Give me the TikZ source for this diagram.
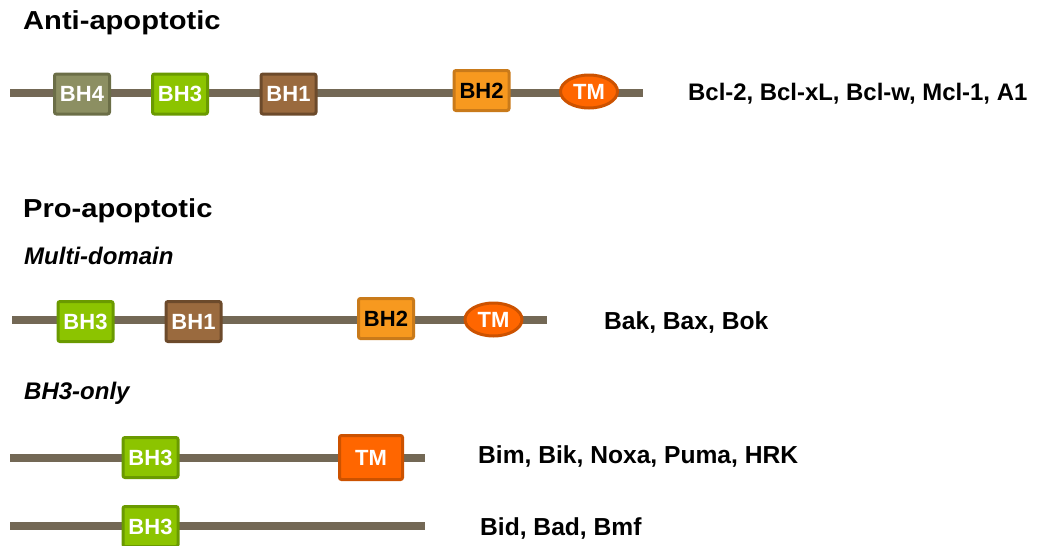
\documentclass[tikz,border=0pt]{standalone}
\usepackage{fontspec}
\setmainfont{Liberation Sans}
\newfontfamily\headfont[FakeStretch=1.12]{Liberation Sans}
\usetikzlibrary{shapes.geometric}
\definecolor{chain}{HTML}{736855}
\definecolor{bhfourfill}{HTML}{8C8F62}
\definecolor{bhfourline}{HTML}{6B6E47}
\definecolor{bhthreefill}{HTML}{8CC400}
\definecolor{bhthreeline}{HTML}{6A9A00}
\definecolor{bhonefill}{HTML}{9A6A3E}
\definecolor{bhoneline}{HTML}{6C4A2B}
\definecolor{bhtwofill}{HTML}{F7991F}
\definecolor{bhtwoline}{HTML}{C97A1A}
\definecolor{tmfill}{HTML}{FF6600}
\definecolor{tmline}{HTML}{CC5200}
\tikzset{
  chainline/.style={line width=8pt, draw=chain},
  domainbox/.style={rectangle, rounded corners=2pt, line width=3pt, inner sep=0pt,
    minimum width=55pt, minimum height=40pt,
    font=\fontsize{22}{24}\selectfont\bfseries, text=white},
  bhfour/.style={domainbox, fill=bhfourfill, draw=bhfourline},
  bhthree/.style={domainbox, fill=bhthreefill, draw=bhthreeline},
  bhone/.style={domainbox, fill=bhonefill, draw=bhoneline},
  bhtwo/.style={domainbox, fill=bhtwofill, draw=bhtwoline, text=black},
  tmoval/.style={ellipse, line width=3pt, inner sep=0pt, fill=tmfill, draw=tmline,
    minimum width=57pt, minimum height=33pt,
    font=\fontsize{22}{24}\selectfont\bfseries, text=white},
  tmbox/.style={domainbox, fill=tmfill, draw=tmline, minimum width=63pt, minimum height=44pt},
  heading/.style={anchor=base west, inner sep=0pt, font=\headfont\fontsize{26}{29}\selectfont\bfseries},
  subheading/.style={anchor=base west, inner sep=0pt, font=\fontsize{24}{27}\selectfont\bfseries\itshape},
  members/.style={anchor=base west, inner sep=0pt, font=\fontsize{24.6}{27}\selectfont\bfseries},
}
\begin{document}
\begin{tikzpicture}[x=1pt, y=-1pt]
\useasboundingbox (0,0) rectangle (1044,546);

% Anti-apoptotic family
\node[heading] (anti) at (23,29) {Anti-apoptotic};
\coordinate (a0) at (10,93);
\coordinate (a1) at (643,93);
\draw[chainline] (a0) -- (a1);
\node[bhfour]  (aBH4) at (82,94)    {BH4};
\node[bhthree] (aBH3) at (180,94)   {BH3};
\node[bhone]   (aBH1) at (288.5,94) {BH1};
\node[bhtwo]   (aBH2) at (481.5,90.5) {BH2};
\node[tmoval]  (aTM)  at (589,91.5) {TM};
\node[members, font=\fontsize{23.9}{27}\selectfont\bfseries] (antiList) at (688,100) {Bcl-2, Bcl-xL, Bcl-w, Mcl-1, A1};

% Pro-apoptotic family
\node[heading] (pro) at (23,217) {Pro-apoptotic};
\node[subheading] (multi) at (24,264) {Multi-domain};
\coordinate (m0) at (12,320);
\coordinate (m1) at (547,320);
\draw[chainline] (m0) -- (m1);
\node[bhthree] (mBH3) at (85.5,321.5) {BH3};
\node[bhone]   (mBH1) at (193.5,321.5) {BH1};
\node[bhtwo]   (mBH2) at (386,318.5)  {BH2};
\node[tmoval]  (mTM)  at (493.5,319.5) {TM};
\node[members] (multiList) at (604,329) {Bak, Bax, Bok};

% BH3-only members
\node[subheading] (only) at (24,399) {BH3-only};
\coordinate (b0) at (10,457.5);
\coordinate (b1) at (425,457.5);
\draw[chainline] (b0) -- (b1);
\node[bhthree] (bBH3) at (150.5,457.5) {BH3};
\node[tmbox]   (bTM)  at (371,457.5)   {TM};
\node[members] (onlyListA) at (478,463) {Bim, Bik, Noxa, Puma, HRK};

\coordinate (c0) at (10,526);
\coordinate (c1) at (425,526);
\draw[chainline] (c0) -- (c1);
\node[bhthree] (cBH3) at (150.5,526.5) {BH3};
\node[members] (onlyListB) at (480,535) {Bid, Bad, Bmf};
\end{tikzpicture}
\end{document}
